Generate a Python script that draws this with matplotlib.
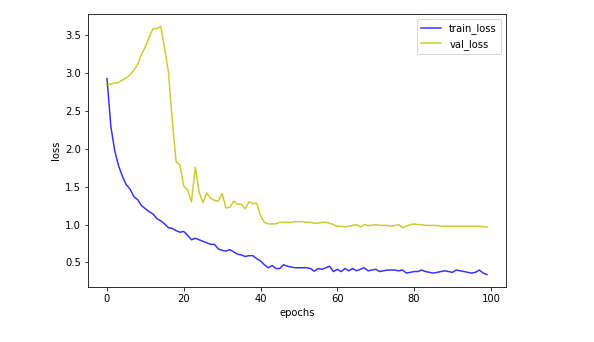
import matplotlib
matplotlib.use("Agg")
import matplotlib.pyplot as plt

epochs = list(range(100))

train_loss = [2.93, 2.30, 1.98, 1.78, 1.64, 1.53, 1.47, 1.37, 1.33, 1.25,
              1.21, 1.17, 1.14, 1.08, 1.05, 1.01, 0.96, 0.95, 0.92, 0.90,
              0.91, 0.86, 0.80, 0.82, 0.80, 0.78, 0.76, 0.74, 0.74, 0.68,
              0.66, 0.65, 0.67, 0.64, 0.61, 0.60, 0.58, 0.59, 0.59, 0.55,
              0.52, 0.47, 0.43, 0.46, 0.42, 0.42, 0.47, 0.45, 0.44, 0.43,
              0.43, 0.43, 0.43, 0.42, 0.385, 0.42, 0.41, 0.43, 0.45, 0.38,
              0.41, 0.38, 0.42, 0.39, 0.42, 0.39, 0.41, 0.43, 0.39, 0.40,
              0.41, 0.38, 0.39, 0.40, 0.40, 0.40, 0.39, 0.40, 0.36, 0.37,
              0.38, 0.38, 0.40, 0.38, 0.37, 0.36, 0.37, 0.38, 0.39, 0.38,
              0.37, 0.40, 0.39, 0.38, 0.37, 0.36, 0.37, 0.40, 0.36, 0.34]

val_loss = [2.85, 2.86, 2.87, 2.88, 2.91, 2.94, 2.98, 3.04, 3.12, 3.25,
            3.35, 3.48, 3.59, 3.59, 3.62, 3.33, 3.02, 2.38, 1.83, 1.79,
            1.51, 1.46, 1.30, 1.76, 1.43, 1.29, 1.42, 1.35, 1.32, 1.31,
            1.41, 1.22, 1.23, 1.31, 1.27, 1.27, 1.21, 1.30, 1.28, 1.28,
            1.12, 1.03, 1.01, 1.01, 1.01, 1.03, 1.03, 1.03, 1.03, 1.04,
            1.04, 1.04, 1.03, 1.03, 1.02, 1.02, 1.03, 1.03, 1.02, 1.00,
            0.98, 0.98, 0.97, 0.98, 0.99, 1.00, 0.97, 1.00, 0.99, 0.99,
            1.00, 0.99, 0.99, 0.99, 0.98, 0.99, 1.00, 0.96, 0.98, 1.00,
            1.01, 1.00, 1.00, 0.99, 0.99, 0.99, 0.99, 0.98, 0.98, 0.98,
            0.98, 0.98, 0.98, 0.98, 0.98, 0.98, 0.98, 0.98, 0.97, 0.97]

fig = plt.figure(figsize=(594 / 72, 342 / 72), dpi=72)
ax = fig.add_axes([88 / 594, 55 / 342, 418 / 594, 273 / 342])
ax.plot(epochs, train_loss, color="b", alpha=0.8, linewidth=1.5, label="train_loss")
ax.plot(epochs, val_loss, color="y", alpha=0.8, linewidth=1.5, label="val_loss")
ax.set_xlabel("epochs")
ax.set_ylabel("loss")
ax.legend(loc="upper right")
fig.savefig("out.png", dpi=72)
